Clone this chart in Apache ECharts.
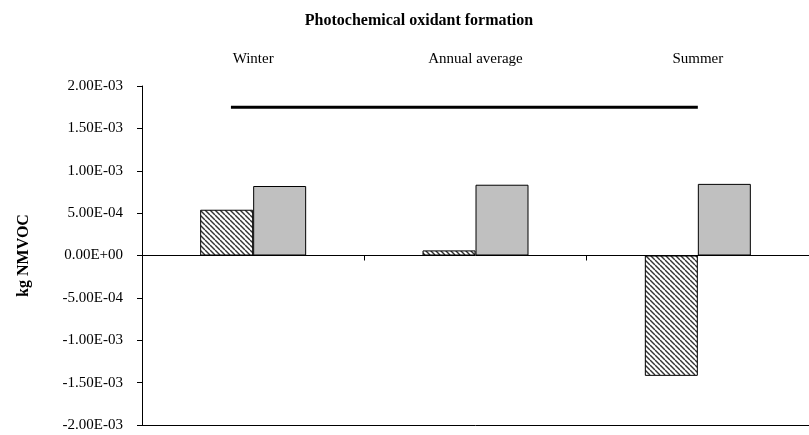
<!DOCTYPE html>
<html>
<head>
<meta charset="utf-8">
<script src="https://cdn.jsdelivr.net/npm/echarts@6/dist/echarts.min.js"></script>
<style>
html,body{margin:0;padding:0;background:#fff;}
#chart{width:809px;height:435px;}
</style>
</head>
<body>
<div id="chart"></div>
<script>
const categories = ['Winter', 'Annual average', 'Summer'];
const hatchedValues = [5.4e-4, 6e-5, -1.42e-3];
const greyValues = [8.2e-4, 8.35e-4, 8.45e-4];
const refLineX = [0.40, 2.50];
const refLineY = [1.75e-3, 1.75e-3];
const yMin = -2e-3, yMax = 2e-3, yStep = 5e-4;
const titleText = 'Photochemical oxidant formation';
const yName = 'kg NMVOC';

function fmtExp(v) {
  if (Math.abs(v) < 1e-12) return '0.00E+00';
  const s = v.toExponential(2);
  const parts = s.split('e');
  let exp = parseInt(parts[1], 10);
  const sign = exp < 0 ? '-' : '+';
  exp = Math.abs(exp);
  return parts[0] + 'E' + sign + (exp < 10 ? '0' + exp : '' + exp);
}

function hatchPattern() {
  const p = 5;
  const c = document.createElement('canvas');
  c.width = p; c.height = p;
  const ctx = c.getContext('2d');
  ctx.fillStyle = '#ffffff';
  ctx.fillRect(0, 0, p, p);
  ctx.strokeStyle = '#333333';
  ctx.lineWidth = 1.4;
  for (let k = -1; k <= 1; k++) {
    ctx.beginPath();
    ctx.moveTo(k * p, 0);
    ctx.lineTo(k * p + p, p);
    ctx.stroke();
  }
  return { image: c, repeat: 'repeat' };
}

const font = 'Liberation Serif';
const chart = echarts.init(document.getElementById('chart'), null, { renderer: 'canvas' });
chart.setOption({
  animation: false,
  backgroundColor: '#ffffff',
  title: {
    text: titleText, left: 414, top: 8, textAlign: 'center',
    textStyle: { fontFamily: font, fontWeight: 'bold', fontSize: 16, color: '#000' }
  },
  grid: { left: 142, top: 86, bottom: 10, right: -5, containLabel: false },
  xAxis: [
    {
      type: 'category', data: categories, position: 'bottom',
      axisLine: { onZero: true, lineStyle: { color: '#000', width: 1 } },
      axisTick: { show: true, alignWithLabel: false, length: 5, lineStyle: { color: '#000' } },
      axisLabel: { show: false }, splitLine: { show: false }
    },
    {
      type: 'category', data: categories, position: 'top',
      axisLine: { show: false }, axisTick: { show: false },
      axisLabel: { show: true, margin: 19, fontFamily: font, fontSize: 15, color: '#000' }
    },
    {
      type: 'category', data: categories, position: 'bottom',
      axisLine: { show: true, onZero: false, lineStyle: { color: '#000', width: 1 } },
      axisTick: { show: false }, axisLabel: { show: false }
    },
    {
      type: 'value', min: 0, max: 3, show: false
    }
  ],
  yAxis: {
    type: 'value', min: yMin, max: yMax, interval: yStep,
    name: yName, nameLocation: 'middle', nameGap: 110, nameRotate: 90,
    nameTextStyle: { fontFamily: font, fontWeight: 'bold', fontSize: 16, color: '#000' },
    axisLine: { show: true, lineStyle: { color: '#000', width: 1 } },
    axisTick: { show: true, length: 5, lineStyle: { color: '#000' } },
    axisLabel: { margin: 19, fontFamily: font, fontSize: 15, color: '#000', formatter: fmtExp },
    splitLine: { show: false }
  },
  series: [
    {
      type: 'bar', data: hatchedValues, xAxisIndex: 0, barWidth: 53, barGap: '0%',
      itemStyle: { color: hatchPattern(), borderColor: '#000', borderWidth: 1 }
    },
    {
      type: 'bar', data: greyValues, xAxisIndex: 0, barWidth: 53, barGap: '0%',
      itemStyle: { color: '#c0c0c0', borderColor: '#000', borderWidth: 1 }
    },
    {
      type: 'line', xAxisIndex: 3, symbol: 'none',
      data: refLineX.map((x, i) => [x, refLineY[i]]),
      lineStyle: { color: '#000', width: 3 }
    }
  ]
});
</script>
</body>
</html>
